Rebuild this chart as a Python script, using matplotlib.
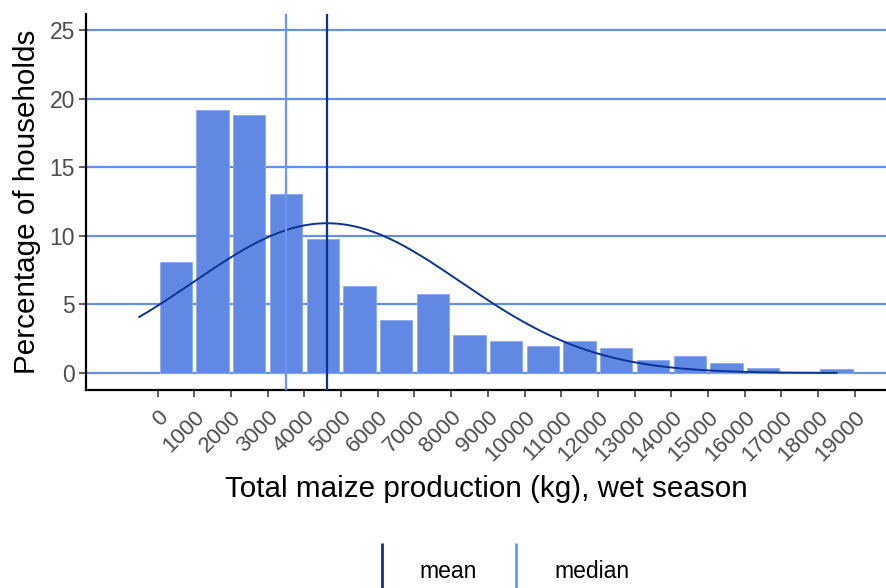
import numpy as np
import matplotlib.pyplot as plt
from matplotlib.lines import Line2D

plt.rcParams['font.family'] = ['Liberation Sans', 'DejaVu Sans']

# histogram bins (kg, left edges) and share of households (%)
bin_left = [0, 1000, 2000, 3000, 4000, 5000, 6000, 7000, 8000, 9000,
            10000, 11000, 12000, 13000, 14000, 15000, 16000, 17000, 18000]
pct = [8.1, 19.2, 18.8, 13.1, 9.75, 6.35, 3.9, 5.75, 2.75, 2.3,
       2.0, 2.3, 1.8, 0.95, 1.25, 0.7, 0.4, 0.1, 0.3]
tick_vals = list(range(0, 20000, 1000))

mean_kg = 4620
median_kg = 3500
sd_kg = 3650
bin_w = 1000
curve_from, curve_to = -500, 18500

bar_col = "#6189E4"
grid_col = "#6690E8"
mean_col = "#0C3394"
median_col = "#6D96EE"

fig = plt.figure(figsize=(8.86, 5.88), dpi=100)
ax = fig.add_axes([86/886, 1 - 390/588, 800/886, 376/588])

ax.bar(np.array(bin_left) + bin_w / 2, pct, width=880, color=bar_col,
       edgecolor="#8AAAF0", linewidth=0.6, zorder=2)

# fitted normal curve, scaled to percent per bin
xs = np.linspace(curve_from, curve_to, 300)
ys = 100 * bin_w / (sd_kg * np.sqrt(2 * np.pi)) * np.exp(-0.5 * ((xs - mean_kg) / sd_kg) ** 2)
ax.plot(xs, ys, color=mean_col, lw=1.4, zorder=3)

ax.axvline(median_kg, color=median_col, lw=1.6, zorder=4)
ax.axvline(mean_kg, color=mean_col, lw=1.6, zorder=4)

for y in range(0, 30, 5):
    ax.axhline(y, color=grid_col, lw=1.6, zorder=1)

ax.set_xlim(-1950, 19850)
ax.set_ylim(-1.24, 26.2)
ax.set_yticks(range(0, 30, 5))
ax.set_xticks(tick_vals)
ax.set_xticklabels([str(v) for v in tick_vals], rotation=45, ha='right',
                   va='top', rotation_mode='anchor')
ax.tick_params(axis='both', colors="#333333", labelcolor="#4D4D4D",
               length=5, width=1.1)
ax.tick_params(axis='x', pad=7, labelsize=16)
ax.tick_params(axis='y', pad=3, labelsize=16.5)

for s in ['top', 'right']:
    ax.spines[s].set_visible(False)
for s in ['left', 'bottom']:
    ax.spines[s].set_linewidth(1.6)
    ax.spines[s].set_color('black')

ax.set_ylabel("Percentage of households", fontsize=21.3, labelpad=6)
ax.set_xlabel("Total maize production (kg), wet season", fontsize=21.3, labelpad=7)

handles = [Line2D([], [], color=mean_col, marker='|', linestyle='None',
                  markersize=37, markeredgewidth=2),
           Line2D([], [], color=median_col, marker='|', linestyle='None',
                  markersize=37, markeredgewidth=2)]
fig.legend(handles, ["mean", "median"], loc='center', ncol=2,
           bbox_to_anchor=(494/886, 1 - 571/588), frameon=False,
           fontsize=16.5, handlelength=2, handletextpad=0.66, columnspacing=0.7)

fig.savefig("out.png", dpi=100)
